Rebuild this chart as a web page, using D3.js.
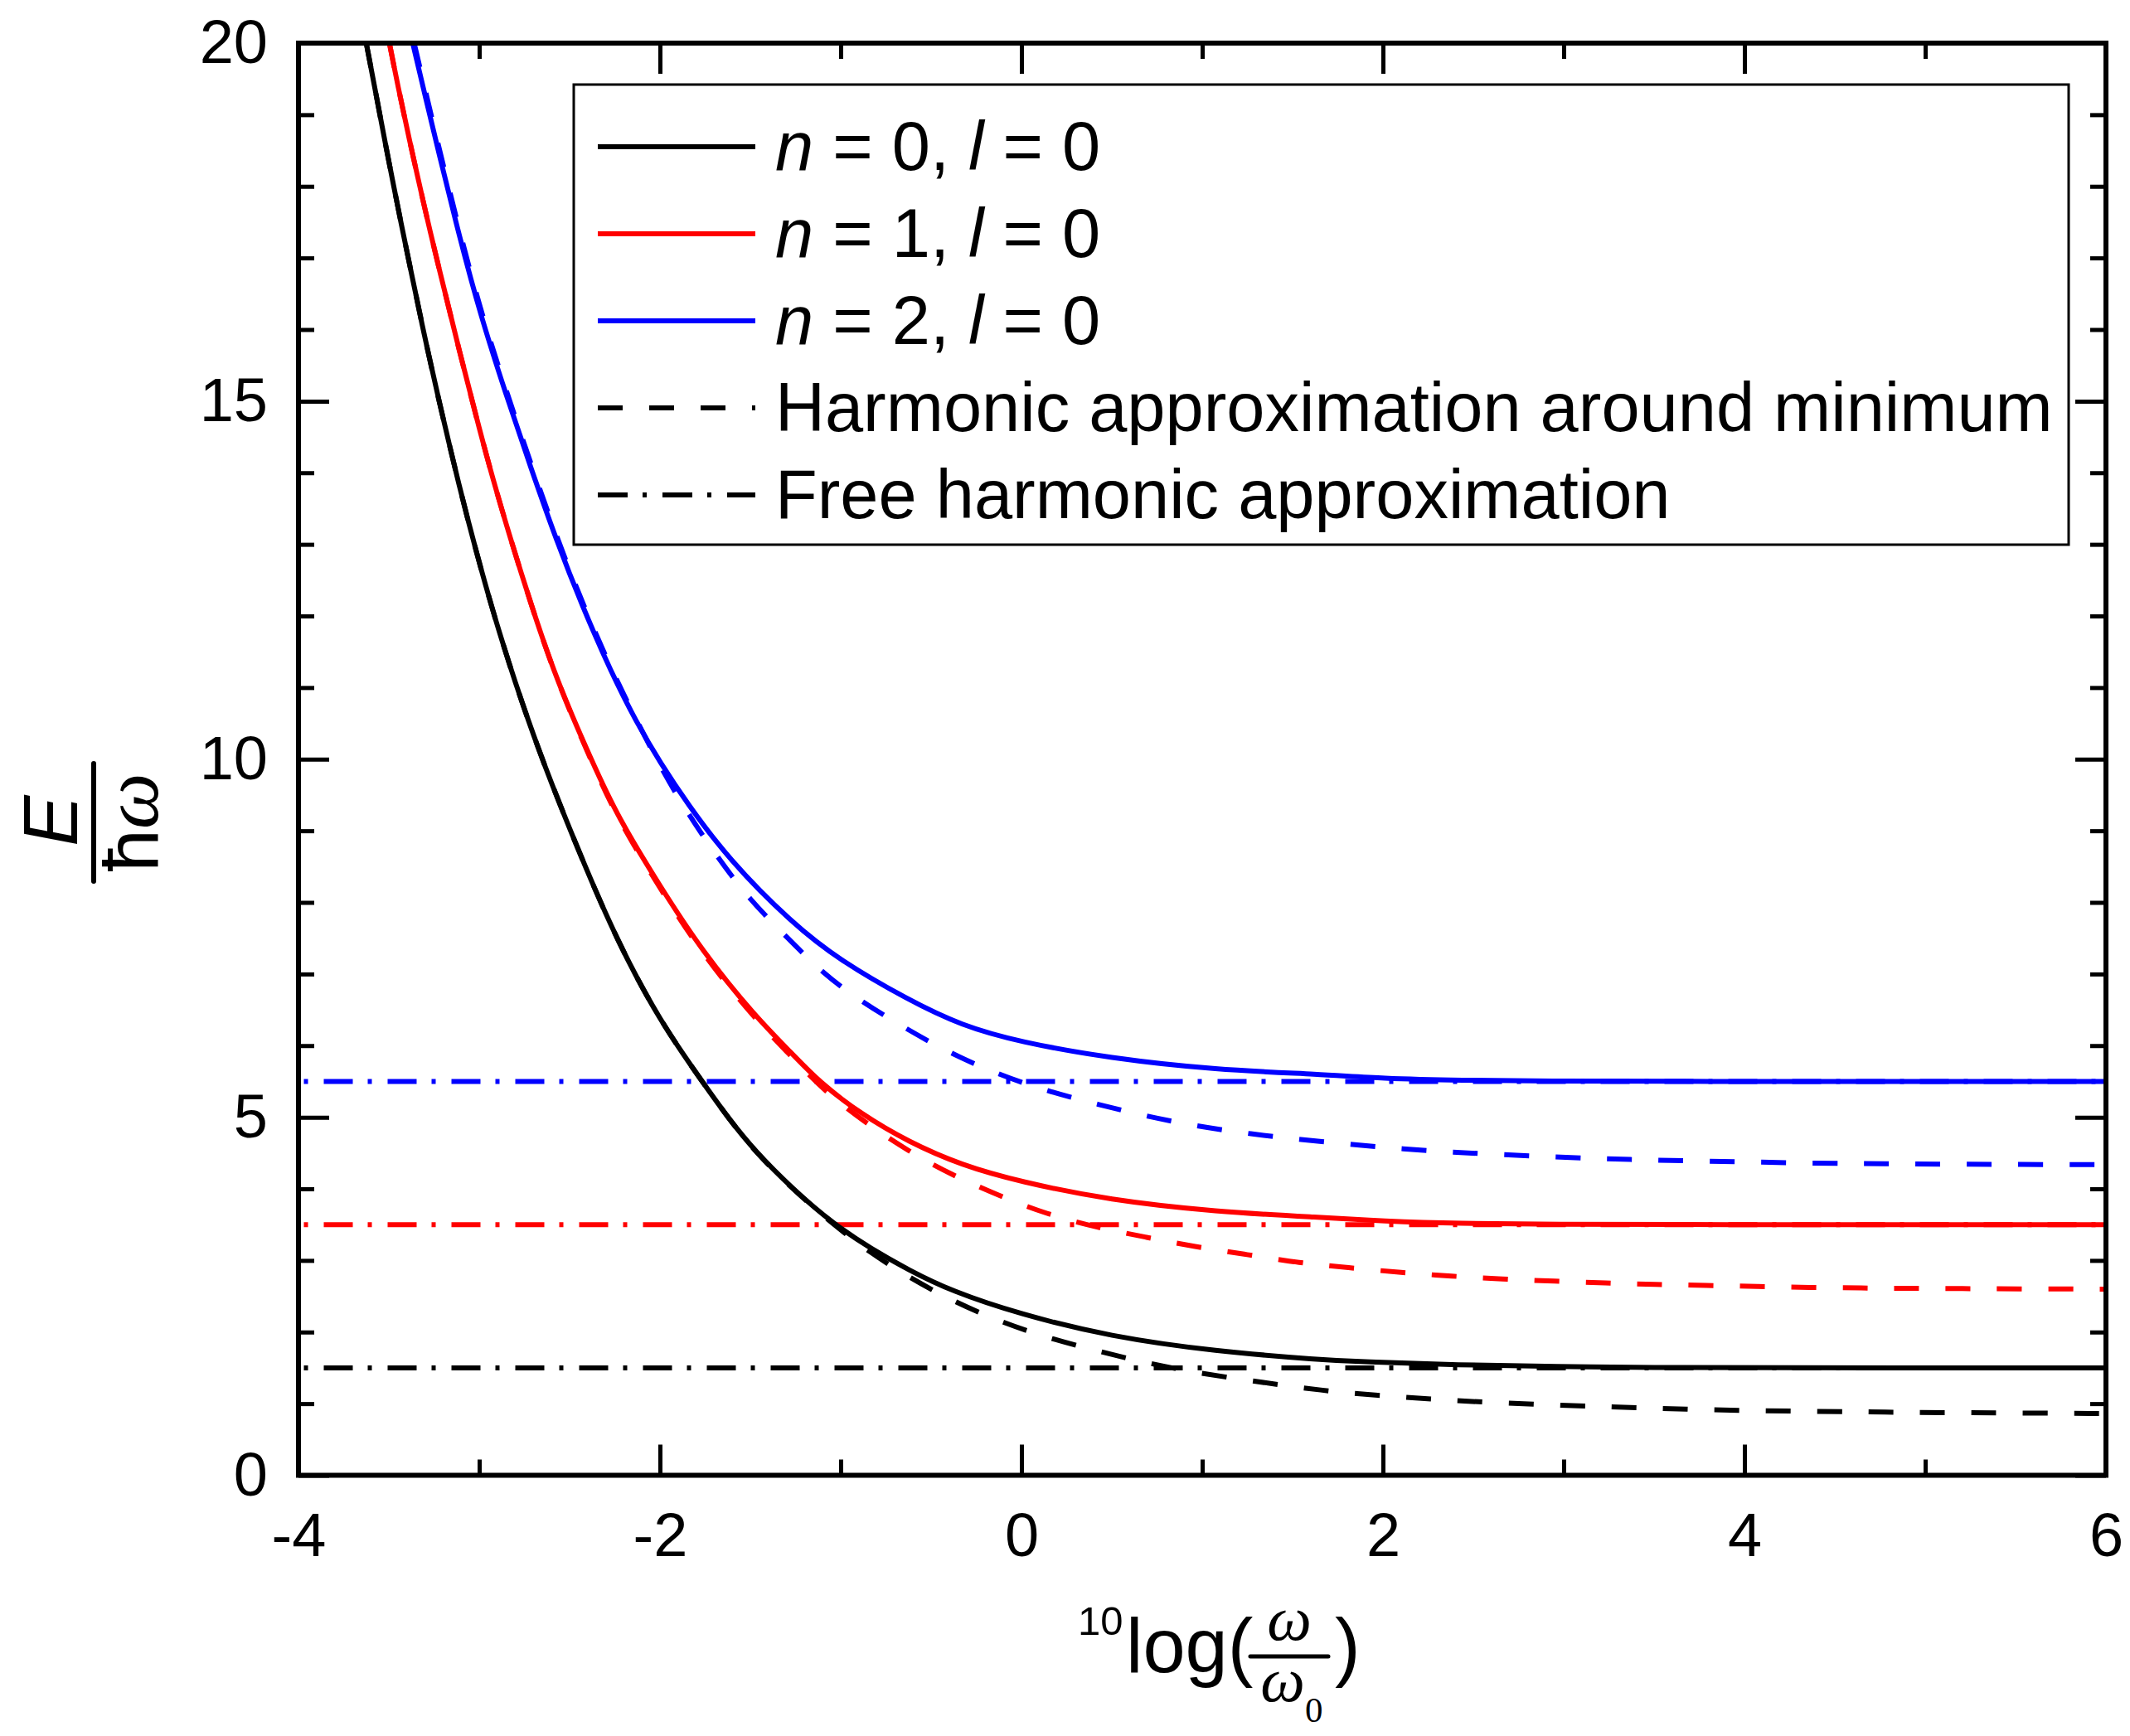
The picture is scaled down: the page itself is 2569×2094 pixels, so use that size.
<!DOCTYPE html>
<html>
<head>
<meta charset="utf-8">
<script src="https://cdn.jsdelivr.net/npm/d3@7"></script>
<style>
    body { margin: 0; background: #fff; }
    svg { display: block; font-family: "Liberation Sans", Arial, sans-serif; }
    text { white-space: pre; }
</style>
</head>
<body>
<svg width="2569" height="2094"></svg>
<script>
// values: [log10(w/w0), E/hw]
var n0Exact = [[-3.625, 20], [-3.572, 19.3], [-3.52, 18.6], [-3.426, 17.4], [-3.368, 16.7], [-3.298, 15.85],
    [-3.227, 15.05], [-3.11, 13.8], [-3.017, 12.9], [-2.923, 12.05], [-2.83, 11.3], [-2.771, 10.85],
    [-2.654, 10.0], [-2.44, 8.65], [-2.235, 7.45], [-2.001, 6.345], [-1.767, 5.5], [-1.62, 4.98],
    [-1.474, 4.525], [-1.269, 4.005], [-1.035, 3.498], [-0.83, 3.16], [-0.625, 2.868], [-0.391, 2.575],
    [-0.01, 2.25], [0.487, 1.938], [1.073, 1.73], [1.658, 1.613], [1.874, 1.585], [2.418, 1.54],
    [2.962, 1.519], [3.505, 1.505], [4.05, 1.5], [6, 1.5]];
var n1Exact = [[-3.497, 20], [-3.45, 19.4], [-3.391, 18.7], [-3.298, 17.65], [-3.227, 16.9], [-3.11, 15.7],
    [-2.993, 14.55], [-2.923, 13.9], [-2.83, 13.1], [-2.712, 12.15], [-2.572, 11.1], [-2.373, 9.95],
    [-2.235, 9.2], [-2.001, 8.23], [-1.767, 7.32], [-1.474, 6.41], [-1.269, 5.89], [-1.123, 5.5],
    [-0.888, 5.045], [-0.625, 4.655], [-0.332, 4.33], [-0.01, 4.1], [0.487, 3.842], [1.073, 3.68],
    [1.658, 3.6], [2.0, 3.55], [2.418, 3.515], [2.962, 3.504], [3.64, 3.5], [6, 3.5]];
var n2Exact = [[-3.368, 20], [-3.298, 19.25], [-3.227, 18.5], [-3.11, 17.3], [-2.993, 16.2], [-2.853, 15.1],
    [-2.712, 14.05], [-2.572, 13.05], [-2.432, 12.15], [-2.268, 11.2], [-2.127, 10.5], [-1.998, 9.95],
    [-1.854, 9.4], [-1.62, 8.6], [-1.269, 7.71], [-1.005, 7.19], [-0.625, 6.637], [-0.332, 6.28],
    [-0.01, 6.05], [0.487, 5.825], [1.073, 5.662], [1.658, 5.6], [2.0, 5.54], [2.418, 5.515],
    [2.962, 5.503], [3.5, 5.5], [6, 5.5]];

var n0Harm = [[-3.625, 20], [-3.572, 19.3], [-3.52, 18.6], [-3.426, 17.4], [-3.368, 16.7], [-3.298, 15.85],
    [-3.227, 15.05], [-3.11, 13.8], [-3.017, 12.9], [-2.923, 12.05], [-2.83, 11.3], [-2.771, 10.85],
    [-2.654, 10.0], [-2.44, 8.65], [-2.235, 7.45], [-2.001, 6.345], [-1.767, 5.5], [-1.62, 4.98],
    [-1.474, 4.52], [-1.269, 4.0], [-1.035, 3.49], [-0.83, 3.095], [-0.625, 2.77], [-0.391, 2.445],
    [-0.127, 2.153], [0.136, 1.925], [0.429, 1.73], [0.692, 1.568], [0.956, 1.438], [1.249, 1.327],
    [1.54, 1.224], [1.804, 1.146], [2.105, 1.093], [2.377, 1.043], [2.663, 1.01], [2.948, 0.981],
    [3.233, 0.956], [3.505, 0.935], [3.79, 0.915], [4.076, 0.902], [4.362, 0.894], [4.647, 0.886],
    [4.919, 0.878], [5.205, 0.874], [5.49, 0.87], [6, 0.862]];
var n1Harm = [[-3.497, 20], [-3.45, 19.4], [-3.391, 18.7], [-3.298, 17.65], [-3.227, 16.9], [-3.11, 15.7],
    [-2.993, 14.55], [-2.923, 13.9], [-2.83, 13.1], [-2.712, 12.15], [-2.572, 11.1], [-2.373, 9.93],
    [-2.235, 9.17], [-2.001, 8.2], [-1.767, 7.28], [-1.474, 6.37], [-1.269, 5.84], [-1.093, 5.37],
    [-0.859, 4.915], [-0.625, 4.525], [-0.391, 4.2], [-0.127, 3.907], [0.136, 3.648], [0.429, 3.453],
    [0.692, 3.323], [0.956, 3.193], [1.249, 3.082], [1.54, 2.965], [1.804, 2.9], [2.105, 2.83],
    [2.377, 2.78], [2.663, 2.739], [2.948, 2.71], [3.233, 2.685], [3.505, 2.664], [3.79, 2.652],
    [4.076, 2.635], [4.362, 2.623], [4.647, 2.615], [4.919, 2.61], [5.205, 2.607], [5.49, 2.603], [6, 2.6]];
var n2Harm = [[-3.36, 20], [-3.29, 19.25], [-3.219, 18.5], [-3.102, 17.3], [-2.985, 16.2], [-2.845, 15.1],
    [-2.704, 14.05], [-2.564, 13.05], [-2.424, 12.15], [-2.26, 11.2], [-2.12, 10.5], [-2.0, 9.9],
    [-1.854, 9.27], [-1.679, 8.62], [-1.503, 8.034], [-1.298, 7.514], [-1.093, 6.995], [-0.888, 6.62],
    [-0.625, 6.215], [-0.391, 5.89], [-0.127, 5.597], [0.136, 5.37], [0.429, 5.175], [0.692, 5.012],
    [0.956, 4.882], [1.249, 4.772], [1.54, 4.687], [1.874, 4.608], [2.105, 4.559], [2.377, 4.513],
    [2.663, 4.476], [2.948, 4.447], [3.233, 4.418], [3.505, 4.401], [3.79, 4.385], [4.076, 4.373],
    [4.362, 4.36], [4.647, 4.352], [4.919, 4.348], [5.205, 4.343], [5.49, 4.34], [6, 4.338]];

var freeLevels = [1.5, 3.5, 5.5];
var colors = ["#000000", "#ff0000", "#0000ff"];

var xMajor = [-4, -2, 0, 2, 4, 6];
var xMinor = [-3, -1, 1, 3, 5];
var yMajor = [0, 5, 10, 15, 20];
var yMinor = [1, 2, 3, 4, 6, 7, 8, 9, 11, 12, 13, 14, 16, 17, 18, 19];

var legendLabels = ["Harmonic approximation around minimum", "Free harmonic approximation"];

var svg = d3.select("svg"),
    margin = {top: 52, right: 29, bottom: 314.5, left: 360},
    width = +svg.attr("width") - margin.left - margin.right,
    height = +svg.attr("height") - margin.top - margin.bottom;

var serif = "Liberation Serif, Times New Roman, serif";

var x = d3.scaleLinear().domain([-4, 6]).range([0, width]);
var y = d3.scaleLinear().domain([0, 20]).range([height, 0]);

var g = svg.append("g")
    .attr("transform", "translate(" + margin.left + "," + margin.top + ")");

g.append("clipPath").attr("id", "plot")
    .append("rect").attr("width", width).attr("height", height);

var line = d3.line()
    .x(function(d) { return x(d[0]); })
    .y(function(d) { return y(d[1]); })
    .curve(d3.curveBasis);

var curves = g.append("g").attr("clip-path", "url(#plot)");

// free harmonic levels (dash-dot)
curves.selectAll(".free").data(freeLevels).enter().append("line")
    .attr("class", "free")
    .attr("x1", x(-4)).attr("x2", x(6))
    .attr("y1", function(d) { return y(d); })
    .attr("y2", function(d) { return y(d); })
    .attr("stroke", function(d, i) { return colors[i]; })
    .attr("stroke-width", 6)
    .attr("stroke-dasharray", "35,18,5,19")
    .attr("stroke-dashoffset", 46.5);

// harmonic approximation around minimum (dashed)
curves.selectAll(".harm").data([n0Harm, n1Harm, n2Harm]).enter().append("path")
    .attr("class", "harm")
    .attr("d", line)
    .attr("fill", "none")
    .attr("stroke", function(d, i) { return colors[i]; })
    .attr("stroke-width", 6)
    .attr("stroke-dasharray", "30,32");

// exact levels
curves.selectAll(".exact").data([n0Exact, n1Exact, n2Exact]).enter().append("path")
    .attr("class", "exact")
    .attr("d", line)
    .attr("fill", "none")
    .attr("stroke", function(d, i) { return colors[i]; })
    .attr("stroke-width", 6);

// axes, ticks pointing inwards on all four sides
function styleAxis(sel) {
    sel.select(".domain").remove();
    sel.selectAll("line").attr("stroke", "#000").attr("stroke-width", 5);
    sel.selectAll("text").attr("font-size", 74).attr("font-family", "Liberation Sans, Arial, sans-serif").attr("fill", "#000");
}
function noLabel() { return ""; }
function plain(d) { return String(d); }

g.append("g").attr("transform", "translate(0," + height + ")")
    .call(d3.axisBottom(x).tickValues(xMinor).tickSize(-19).tickFormat(noLabel)).call(styleAxis);
g.append("g").attr("transform", "translate(0," + height + ")")
    .call(d3.axisBottom(x).tickValues(xMajor).tickSize(-37).tickPadding(45).tickFormat(plain)).call(styleAxis);
g.append("g")
    .call(d3.axisTop(x).tickValues(xMinor).tickSize(-19).tickFormat(noLabel)).call(styleAxis);
g.append("g")
    .call(d3.axisTop(x).tickValues(xMajor).tickSize(-37).tickFormat(noLabel)).call(styleAxis);

g.append("g")
    .call(d3.axisLeft(y).tickValues(yMinor).tickSize(-19).tickFormat(noLabel)).call(styleAxis);
g.append("g")
    .call(d3.axisLeft(y).tickValues(yMajor).tickSize(-37).tickPadding(37).tickFormat(plain)).call(styleAxis);
g.append("g").attr("transform", "translate(" + width + ",0)")
    .call(d3.axisRight(y).tickValues(yMinor).tickSize(-19).tickFormat(noLabel)).call(styleAxis);
g.append("g").attr("transform", "translate(" + width + ",0)")
    .call(d3.axisRight(y).tickValues(yMajor).tickSize(-37).tickFormat(noLabel)).call(styleAxis);

g.append("rect")
    .attr("width", width).attr("height", height)
    .attr("fill", "none").attr("stroke", "#000").attr("stroke-width", 6);

// legend
var legend = svg.append("g").attr("transform", "translate(692,102)");
legend.append("rect")
    .attr("width", 1803).attr("height", 555)
    .attr("fill", "#fff").attr("stroke", "#000").attr("stroke-width", 3);

var rows = [
    {color: colors[0], dash: null, n: 0},
    {color: colors[1], dash: null, n: 1},
    {color: colors[2], dash: null, n: 2},
    {color: "#000", dash: "30,32", label: legendLabels[0]},
    {color: "#000", dash: "36,18,5,19", label: legendLabels[1]}
];

var row = legend.selectAll(".row").data(rows).enter().append("g")
    .attr("class", "row")
    .attr("transform", function(d, i) { return "translate(0," + (75 + i * 105) + ")"; });

row.append("line")
    .attr("x1", 29).attr("x2", 219)
    .attr("stroke", function(d) { return d.color; })
    .attr("stroke-width", 6)
    .attr("stroke-dasharray", function(d) { return d.dash; });

var rowText = row.append("text")
    .attr("x", 243).attr("y", 28)
    .attr("font-size", 83);

rowText.each(function(d) {
    var t = d3.select(this);
    if (d.label) {
        t.text(d.label);
    } else {
        t.append("tspan").attr("font-style", "italic").text("n");
        t.append("tspan").text(" = " + d.n + ", ");
        t.append("tspan").attr("font-style", "italic").text("l");
        t.append("tspan").text(" = 0");
    }
});

// y axis label: E over hbar omega, rotated
var yl = svg.append("g").attr("transform", "translate(113,992) rotate(-90)");
yl.append("line")
    .attr("x1", -71).attr("x2", 71)
    .attr("stroke", "#000").attr("stroke-width", 6).attr("stroke-linecap", "round");
yl.append("text")
    .attr("x", 2).attr("y", -20)
    .attr("text-anchor", "middle")
    .attr("font-size", 92).attr("font-style", "italic")
    .text("E");
var den = yl.append("text")
    .attr("x", 0).attr("y", 77)
    .attr("text-anchor", "middle")
    .attr("font-size", 92);
den.append("tspan").text("\u0127");
den.append("tspan")
    .attr("font-family", serif)
    .attr("font-style", "italic")
    .attr("font-size", 96)
    .text("\u03c9");

// x axis label: 10log(w / w0)
var xl = svg.append("g");
xl.append("text").attr("x", 1300).attr("y", 1972).attr("font-size", 49).text("10");
xl.append("text").attr("x", 1358).attr("y", 2017).attr("font-size", 92).text("log(");
xl.append("line")
    .attr("x1", 1508).attr("x2", 1602).attr("y1", 1998).attr("y2", 1998)
    .attr("stroke", "#000").attr("stroke-width", 5).attr("stroke-linecap", "round");
xl.append("text").attr("x", 1555).attr("y", 1978)
    .attr("text-anchor", "middle")
    .attr("font-family", serif)
    .attr("font-style", "italic").attr("font-size", 76)
    .text("\u03c9");
xl.append("text").attr("x", 1547).attr("y", 2052)
    .attr("text-anchor", "middle")
    .attr("font-family", serif)
    .attr("font-style", "italic").attr("font-size", 76)
    .text("\u03c9");
xl.append("text").attr("x", 1574).attr("y", 2077)
    .attr("font-family", serif)
    .attr("font-size", 43)
    .text("0");
xl.append("text").attr("x", 1610).attr("y", 2017).attr("font-size", 92).text(")");
</script>
</body>
</html>
